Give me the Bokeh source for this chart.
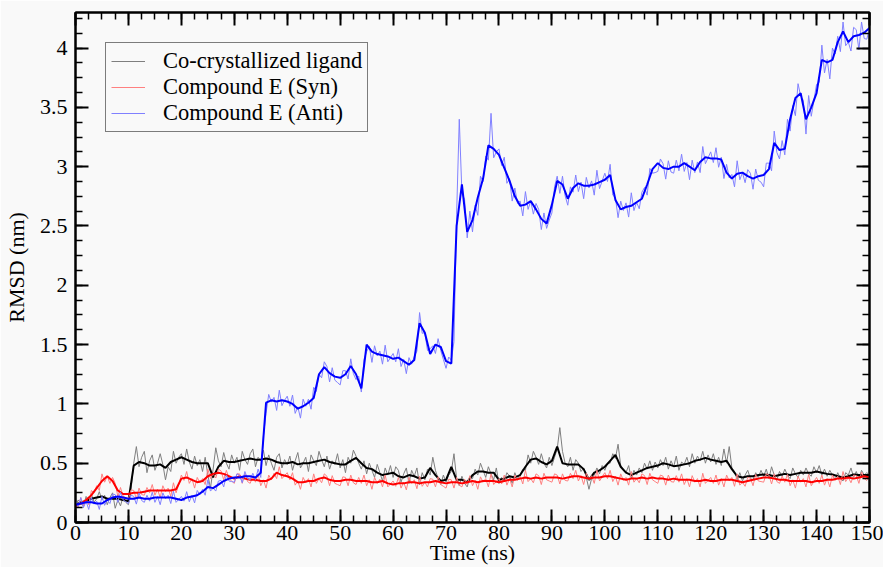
from bokeh.plotting import figure
from bokeh.models import FixedTicker, LinearAxis, Legend, LegendItem, Range1d
from bokeh.embed import file_html
from bokeh.resources import INLINE

# ---------------- data ----------------
time_smooth = [float(t) for t in range(0, 151)]          # ns, 1 ns step
time_raw = [t * 0.5 for t in range(0, 301)]               # ns, 0.5 ns step

ligand_smooth = [
    0.15, 0.17, 0.18, 0.20, 0.21, 0.22, 0.20, 0.20, 0.20, 0.19,
    0.18, 0.48, 0.51, 0.50, 0.48, 0.48, 0.49, 0.46, 0.51, 0.53,
    0.55, 0.53, 0.51, 0.50, 0.50, 0.50, 0.38, 0.47, 0.52, 0.51,
    0.51, 0.52, 0.53, 0.54, 0.53, 0.53, 0.54, 0.53, 0.51, 0.50,
    0.50, 0.51, 0.49, 0.50, 0.50, 0.51, 0.52, 0.53, 0.51, 0.50,
    0.49, 0.49, 0.52, 0.545, 0.50, 0.46, 0.45, 0.42, 0.40, 0.41,
    0.42, 0.39, 0.38, 0.40, 0.39, 0.37, 0.38, 0.46, 0.40, 0.35,
    0.36, 0.47, 0.36, 0.36, 0.34, 0.40, 0.43, 0.43, 0.42, 0.42,
    0.36, 0.37, 0.39, 0.38, 0.40, 0.47, 0.53, 0.54, 0.51, 0.49,
    0.52, 0.64, 0.50, 0.49, 0.49, 0.49, 0.45, 0.36, 0.42, 0.44,
    0.47, 0.52, 0.57, 0.47, 0.42, 0.40, 0.42, 0.44, 0.46, 0.47,
    0.48, 0.50, 0.49, 0.475, 0.48, 0.49, 0.50, 0.52, 0.53, 0.545,
    0.53, 0.52, 0.51, 0.52, 0.45, 0.39, 0.38, 0.39, 0.39, 0.40,
    0.405, 0.40, 0.39, 0.40, 0.41, 0.40, 0.41, 0.42, 0.42, 0.42,
    0.43, 0.42, 0.41, 0.405, 0.39, 0.38, 0.39, 0.405, 0.40, 0.40,
    0.40,
]

syn_smooth = [
    0.14, 0.16, 0.19, 0.23, 0.29, 0.35, 0.39, 0.35, 0.27, 0.24,
    0.24, 0.25, 0.25, 0.26, 0.27, 0.27, 0.27, 0.27, 0.27, 0.28,
    0.37, 0.38, 0.36, 0.34, 0.35, 0.39, 0.41, 0.42, 0.41, 0.39,
    0.37, 0.39, 0.37, 0.36, 0.36, 0.35, 0.35, 0.37, 0.42, 0.40,
    0.39, 0.37, 0.34, 0.34, 0.35, 0.35, 0.37, 0.38, 0.36, 0.35,
    0.35, 0.36, 0.36, 0.35, 0.35, 0.35, 0.34, 0.34, 0.35, 0.33,
    0.32, 0.33, 0.33, 0.34, 0.34, 0.33, 0.34, 0.34, 0.35, 0.34,
    0.33, 0.34, 0.34, 0.33, 0.34, 0.35, 0.34, 0.35, 0.35, 0.35,
    0.34, 0.35, 0.36, 0.36, 0.37, 0.38, 0.37, 0.38, 0.37, 0.38,
    0.38, 0.38, 0.37, 0.38, 0.39, 0.39, 0.38, 0.37, 0.38, 0.38,
    0.39, 0.39, 0.38, 0.37, 0.36, 0.37, 0.37, 0.38, 0.37, 0.38,
    0.37, 0.37, 0.36, 0.37, 0.36, 0.36, 0.36, 0.35, 0.35, 0.36,
    0.35, 0.35, 0.36, 0.36, 0.36, 0.35, 0.34, 0.35, 0.36, 0.37,
    0.38, 0.38, 0.37, 0.36, 0.36, 0.35, 0.35, 0.35, 0.35, 0.34,
    0.35, 0.35, 0.36, 0.36, 0.37, 0.37, 0.38, 0.37, 0.38, 0.39,
    0.38,
]

anti_smooth = [
    0.15, 0.16, 0.17, 0.17, 0.16, 0.16, 0.19, 0.21, 0.22, 0.21,
    0.20, 0.20, 0.21, 0.20, 0.20, 0.21, 0.21, 0.21, 0.21, 0.20,
    0.19, 0.21, 0.22, 0.23, 0.26, 0.30, 0.29, 0.32, 0.35, 0.37,
    0.38, 0.38, 0.39, 0.39, 0.38, 0.42, 1.01, 1.03, 1.02, 1.03,
    1.02, 1.00, 0.96, 0.98, 1.01, 1.05, 1.25, 1.31, 1.26, 1.23,
    1.22, 1.25, 1.32, 1.25, 1.13, 1.50, 1.44, 1.42, 1.41, 1.40,
    1.38, 1.39, 1.36, 1.33, 1.37, 1.68, 1.60, 1.42, 1.50, 1.48,
    1.36, 1.34, 2.50, 2.85, 2.45, 2.55, 2.74, 2.90, 3.18, 3.15,
    3.10, 2.99, 2.88, 2.75, 2.67, 2.68, 2.71, 2.64, 2.56, 2.52,
    2.68, 2.88, 2.85, 2.73, 2.82, 2.86, 2.84, 2.84, 2.85, 2.87,
    2.89, 2.93, 2.72, 2.64, 2.66, 2.67, 2.70, 2.73, 2.85, 2.98,
    3.03, 2.99, 2.98, 3.00, 3.00, 3.03, 3.00, 2.97, 3.04, 3.08,
    3.07, 3.07, 3.06, 2.95, 2.90, 2.94, 2.95, 2.92, 2.90, 2.92,
    2.93, 2.98, 3.20, 3.14, 3.15, 3.40, 3.58, 3.62, 3.40, 3.50,
    3.62, 3.90, 3.88, 3.90, 4.05, 4.14, 4.05, 4.10, 4.11, 4.13,
    4.17,
]

ligand_raw = [
    0.13, 0.19, 0.16, 0.14, 0.22, 0.18, 0.24, 0.17, 0.20, 0.26, 0.19, 0.23, 0.15, 0.21, 0.25, 0.12, 0.19, 0.14, 0.22, 0.17,
    0.15, 0.28, 0.50, 0.64, 0.47, 0.55, 0.60, 0.42, 0.52, 0.57, 0.44, 0.50, 0.58, 0.49, 0.36, 0.47, 0.43, 0.60, 0.50, 0.55,
    0.58, 0.49, 0.62, 0.51, 0.45, 0.56, 0.48, 0.53, 0.43, 0.55, 0.40, 0.29, 0.45, 0.63, 0.52, 0.47, 0.59, 0.50, 0.45, 0.57,
    0.50, 0.55, 0.44, 0.60, 0.53, 0.49, 0.58, 0.62, 0.47, 0.55, 0.52, 0.61, 0.48, 0.57, 0.50, 0.44, 0.55, 0.58, 0.46, 0.53,
    0.49, 0.56, 0.44, 0.52, 0.59, 0.46, 0.50, 0.55, 0.43, 0.57, 0.52, 0.48, 0.60, 0.53, 0.47, 0.56, 0.45, 0.52, 0.49, 0.58,
    0.46, 0.53, 0.42, 0.55, 0.50, 0.61, 0.56, 0.50, 0.45, 0.52, 0.41, 0.50, 0.44, 0.38, 0.49, 0.42, 0.35, 0.46, 0.40, 0.48,
    0.38, 0.47, 0.44, 0.34, 0.41, 0.46, 0.33, 0.44, 0.39, 0.46, 0.32, 0.42, 0.36, 0.45, 0.40, 0.55, 0.44, 0.37, 0.32, 0.40,
    0.34, 0.40, 0.43, 0.58, 0.37, 0.31, 0.39, 0.33, 0.30, 0.38, 0.37, 0.45, 0.40, 0.50, 0.44, 0.38, 0.47, 0.41, 0.36, 0.46,
    0.33, 0.38, 0.35, 0.42, 0.39, 0.33, 0.42, 0.36, 0.40, 0.45, 0.44, 0.57, 0.50, 0.60, 0.55, 0.49, 0.58, 0.50, 0.46, 0.55,
    0.48, 0.55, 0.62, 0.80, 0.60, 0.50, 0.47, 0.55, 0.44, 0.53, 0.50, 0.43, 0.46, 0.38, 0.28, 0.37, 0.40, 0.46, 0.41, 0.48,
    0.44, 0.50, 0.50, 0.58, 0.54, 0.66, 0.48, 0.44, 0.42, 0.48, 0.37, 0.44, 0.40, 0.46, 0.42, 0.50, 0.45, 0.52, 0.44, 0.51,
    0.46, 0.53, 0.48, 0.55, 0.45, 0.52, 0.47, 0.56, 0.44, 0.51, 0.49, 0.55, 0.47, 0.58, 0.50, 0.56, 0.52, 0.60, 0.50, 0.57,
    0.51, 0.58, 0.49, 0.55, 0.48, 0.62, 0.50, 0.64, 0.46, 0.43, 0.36, 0.42, 0.35, 0.40, 0.44, 0.37, 0.36, 0.42, 0.38, 0.44,
    0.39, 0.45, 0.37, 0.47, 0.40, 0.36, 0.43, 0.39, 0.45, 0.40, 0.37, 0.46, 0.41, 0.38, 0.44, 0.40, 0.46, 0.41, 0.39, 0.47,
    0.42, 0.48, 0.40, 0.45, 0.39, 0.44, 0.40, 0.36, 0.42, 0.37, 0.35, 0.42, 0.40, 0.46, 0.38, 0.43, 0.37, 0.44, 0.40, 0.42,
    0.40,
]

syn_raw = [
    0.17, 0.13, 0.21, 0.135, 0.20, 0.15, 0.27, 0.25, 0.31, 0.27, 0.41, 0.34, 0.39, 0.33, 0.38, 0.33, 0.22, 0.295, 0.22, 0.21,
    0.20, 0.275, 0.27, 0.20, 0.29, 0.235, 0.23, 0.295, 0.25, 0.32, 0.23, 0.28, 0.21, 0.31, 0.26, 0.29, 0.22, 0.335, 0.25, 0.32,
    0.40, 0.355, 0.43, 0.33, 0.37, 0.29, 0.38, 0.335, 0.37, 0.32, 0.45, 0.37, 0.41, 0.375, 0.45, 0.435, 0.36, 0.44, 0.37, 0.35,
    0.33, 0.41, 0.41, 0.33, 0.41, 0.345, 0.33, 0.39, 0.34, 0.405, 0.31, 0.36, 0.29, 0.40, 0.36, 0.415, 0.37, 0.47, 0.37, 0.395,
    0.42, 0.36, 0.42, 0.315, 0.35, 0.28, 0.38, 0.335, 0.37, 0.30, 0.41, 0.33, 0.37, 0.335, 0.41, 0.39, 0.31, 0.395, 0.33, 0.32,
    0.31, 0.385, 0.38, 0.31, 0.40, 0.335, 0.32, 0.38, 0.33, 0.40, 0.31, 0.36, 0.28, 0.38, 0.33, 0.365, 0.30, 0.40, 0.30, 0.325,
    0.35, 0.305, 0.38, 0.29, 0.34, 0.275, 0.38, 0.33, 0.36, 0.285, 0.39, 0.305, 0.34, 0.30, 0.37, 0.365, 0.30, 0.385, 0.32, 0.305,
    0.29, 0.365, 0.36, 0.29, 0.38, 0.315, 0.30, 0.365, 0.32, 0.395, 0.31, 0.355, 0.28, 0.385, 0.34, 0.37, 0.30, 0.41, 0.32, 0.345,
    0.37, 0.325, 0.40, 0.315, 0.37, 0.30, 0.40, 0.355, 0.39, 0.325, 0.44, 0.345, 0.37, 0.335, 0.41, 0.395, 0.32, 0.415, 0.36, 0.35,
    0.34, 0.41, 0.40, 0.325, 0.41, 0.355, 0.35, 0.415, 0.37, 0.44, 0.35, 0.395, 0.32, 0.415, 0.36, 0.395, 0.33, 0.44, 0.35, 0.385,
    0.42, 0.37, 0.44, 0.345, 0.39, 0.315, 0.41, 0.355, 0.38, 0.315, 0.43, 0.34, 0.37, 0.335, 0.41, 0.395, 0.32, 0.415, 0.36, 0.345,
    0.33, 0.40, 0.39, 0.315, 0.40, 0.345, 0.34, 0.395, 0.34, 0.41, 0.32, 0.37, 0.30, 0.395, 0.34, 0.37, 0.30, 0.415, 0.33, 0.355,
    0.38, 0.33, 0.40, 0.315, 0.37, 0.30, 0.40, 0.35, 0.38, 0.305, 0.41, 0.315, 0.34, 0.305, 0.38, 0.375, 0.31, 0.405, 0.35, 0.345,
    0.34, 0.41, 0.40, 0.325, 0.41, 0.345, 0.33, 0.39, 0.34, 0.405, 0.31, 0.36, 0.29, 0.39, 0.34, 0.37, 0.30, 0.405, 0.31, 0.345,
    0.38, 0.33, 0.40, 0.315, 0.37, 0.30, 0.40, 0.355, 0.39, 0.32, 0.43, 0.345, 0.38, 0.335, 0.40, 0.395, 0.33, 0.425, 0.37, 0.355,
    0.38,
]

anti_raw = [
    0.18, 0.135, 0.21, 0.125, 0.18, 0.11, 0.21, 0.155, 0.18, 0.11, 0.22, 0.145, 0.19, 0.16, 0.24, 0.235, 0.17, 0.255, 0.19, 0.175,
    0.16, 0.23, 0.22, 0.155, 0.25, 0.185, 0.17, 0.23, 0.18, 0.255, 0.17, 0.22, 0.15, 0.25, 0.20, 0.23, 0.16, 0.265, 0.17, 0.195,
    0.22, 0.18, 0.26, 0.175, 0.23, 0.165, 0.27, 0.235, 0.28, 0.23, 0.36, 0.265, 0.29, 0.265, 0.35, 0.355, 0.30, 0.40, 0.35, 0.345,
    0.34, 0.41, 0.40, 0.335, 0.43, 0.37, 0.36, 0.415, 0.36, 0.45, 0.38, 0.73, 0.92, 1.08, 1.015, 1.055, 0.945, 1.115, 0.985, 1.03,
    1.065, 0.98, 1.075, 0.92, 0.975, 0.88, 1.04, 0.98, 1.04, 0.955, 1.14, 1.105, 1.25, 1.22, 1.355, 1.315, 1.185, 1.305, 1.20, 1.18,
    1.16, 1.28, 1.28, 1.21, 1.38, 1.255, 1.205, 1.235, 1.10, 1.375, 1.44, 1.485, 1.35, 1.49, 1.405, 1.445, 1.335, 1.495, 1.355, 1.39,
    1.425, 1.355, 1.465, 1.315, 1.375, 1.255, 1.39, 1.335, 1.40, 1.445, 1.77, 1.595, 1.60, 1.45, 1.465, 1.49, 1.425, 1.55, 1.45, 1.375,
    1.30, 1.395, 1.37, 1.525, 2.60, 3.40, 2.775, 2.725, 2.40, 2.625, 2.45, 2.675, 2.59, 2.92, 2.875, 3.09, 3.055, 3.45, 3.075, 3.125,
    3.15, 3.01, 3.08, 2.86, 2.90, 2.71, 2.82, 2.69, 2.71, 2.585, 2.79, 2.64, 2.71, 2.60, 2.69, 2.64, 2.47, 2.61, 2.48, 2.55,
    2.61, 2.83, 2.92, 2.775, 2.92, 2.755, 2.675, 2.83, 2.785, 2.93, 2.79, 2.87, 2.73, 2.91, 2.82, 2.88, 2.76, 2.97, 2.815, 2.88,
    2.945, 2.875, 3.02, 2.76, 2.74, 2.57, 2.71, 2.63, 2.695, 2.575, 2.78, 2.63, 2.70, 2.645, 2.785, 2.825, 2.76, 2.985, 2.945, 2.95,
    2.96, 3.065, 3.025, 2.895, 3.05, 2.955, 2.945, 3.055, 2.965, 3.105, 2.96, 3.035, 2.89, 3.055, 2.95, 3.04, 2.95, 3.17, 3.025, 3.075,
    3.125, 3.035, 3.16, 2.995, 3.08, 2.90, 3.02, 2.905, 2.935, 2.83, 3.05, 2.89, 2.95, 2.865, 2.975, 2.945, 2.81, 2.98, 2.885, 2.87,
    2.83, 3.03, 3.03, 2.965, 3.30, 3.12, 3.065, 3.22, 3.10, 3.40, 3.30, 3.515, 3.43, 3.70, 3.595, 3.56, 3.275, 3.60, 3.425, 3.56,
    3.695, 3.71, 4.025, 3.79, 3.905, 3.74, 4.00, 3.95, 4.10, 3.97, 4.22, 4.02, 4.05, 3.975, 4.175, 4.155, 3.985, 4.22, 4.08, 4.075,
    4.17,
]

series_names = ["Co-crystallized ligand", "Compound E (Syn)", "Compound E (Anti)"]
raw_colors = ["#7f7f7f", "#ff8080", "#8080ff"]
smooth_colors = ["#000000", "#ff0000", "#0000ff"]

x_tick_values = [0, 10, 20, 30, 40, 50, 60, 70, 80, 90, 100, 110, 120, 130, 140, 150]
x_minor_values = [i * 2.5 for i in range(0, 61)]
y_tick_values = [0.0, 0.5, 1.0, 1.5, 2.0, 2.5, 3.0, 3.5, 4.0]
y_tick_labels = ["0", "0.5", "1", "1.5", "2", "2.5", "3", "3.5", "4"]
y_minor_values = [i * 0.125 for i in range(0, 35)]

FONT = "Liberation Serif"
BG = "#f9f9f9"

# ---------------- figure ----------------
p = figure(width=883, height=567, output_backend="svg", toolbar_location=None,
           x_range=Range1d(0, 150), y_range=Range1d(0, 4.3),
           min_border_left=73, min_border_top=12, min_border_right=14, min_border_bottom=0)
p.background_fill_color = BG
p.border_fill_color = BG
p.outline_line_color = "black"
p.outline_line_width = 2
p.grid.visible = False

raws = [ligand_raw, syn_raw, anti_raw]
smooths = [ligand_smooth, syn_smooth, anti_smooth]
legend_items = []
for name, r, s, rc, sc in zip(series_names, raws, smooths, raw_colors, smooth_colors):
    rr = p.line(time_raw[:len(r)], r, line_color=rc, line_width=1)
    p.line(time_smooth[:len(s)], s, line_color=sc, line_width=2)
    legend_items.append(LegendItem(label=name, renderers=[rr]))

xticker = FixedTicker(ticks=x_tick_values, minor_ticks=x_minor_values)
yticker = FixedTicker(ticks=y_tick_values, minor_ticks=y_minor_values)
y_over = {v: l for v, l in zip(y_tick_values, y_tick_labels)}

def style_axis(ax, ticker, show_labels):
    ax.ticker = ticker
    ax.axis_line_color = "black"
    ax.axis_line_width = 2
    ax.major_tick_in = 13
    ax.major_tick_out = 0
    ax.minor_tick_in = 7
    ax.minor_tick_out = 0
    ax.major_tick_line_width = 2
    ax.minor_tick_line_width = 1.5
    ax.major_tick_line_color = "black"
    ax.minor_tick_line_color = "black"
    ax.major_label_text_font = FONT
    ax.axis_label_text_font = FONT
    ax.axis_label_text_font_style = "normal"
    ax.axis_label_text_font_size = "22px"
    ax.axis_label_text_color = "black"
    if show_labels:
        ax.major_label_text_font_size = "22px"
        ax.major_label_text_color = "black"
    else:
        ax.major_label_text_font_size = "1px"
        ax.major_label_text_color = None
        ax.major_label_text_alpha = 0
        ax.major_label_standoff = 0

xb = p.xaxis[0]
style_axis(xb, xticker, True)
xb.axis_label = "Time (ns)"
xb.major_label_standoff = 3
xb.axis_label_standoff = -3

yl = p.yaxis[0]
style_axis(yl, yticker, True)
yl.axis_label = "RMSD (nm)"
yl.major_label_standoff = 8
yl.axis_label_standoff = 8
yl.major_label_overrides = y_over

xt = LinearAxis()
style_axis(xt, xticker, False)
p.add_layout(xt, "above")
yr = LinearAxis()
style_axis(yr, yticker, False)
p.add_layout(yr, "right")

legend = Legend(items=legend_items, location="top_left", margin=30,
                border_line_color="black", border_line_width=1.5,
                background_fill_color=BG, background_fill_alpha=1.0,
                label_text_font=FONT, label_text_font_size="22.5px",
                label_text_color="black",
                glyph_width=34, glyph_height=20, label_height=20,
                label_standoff=18, spacing=0, padding=5)
p.add_layout(legend)

open("out.html", "w").write(file_html(p, INLINE))
